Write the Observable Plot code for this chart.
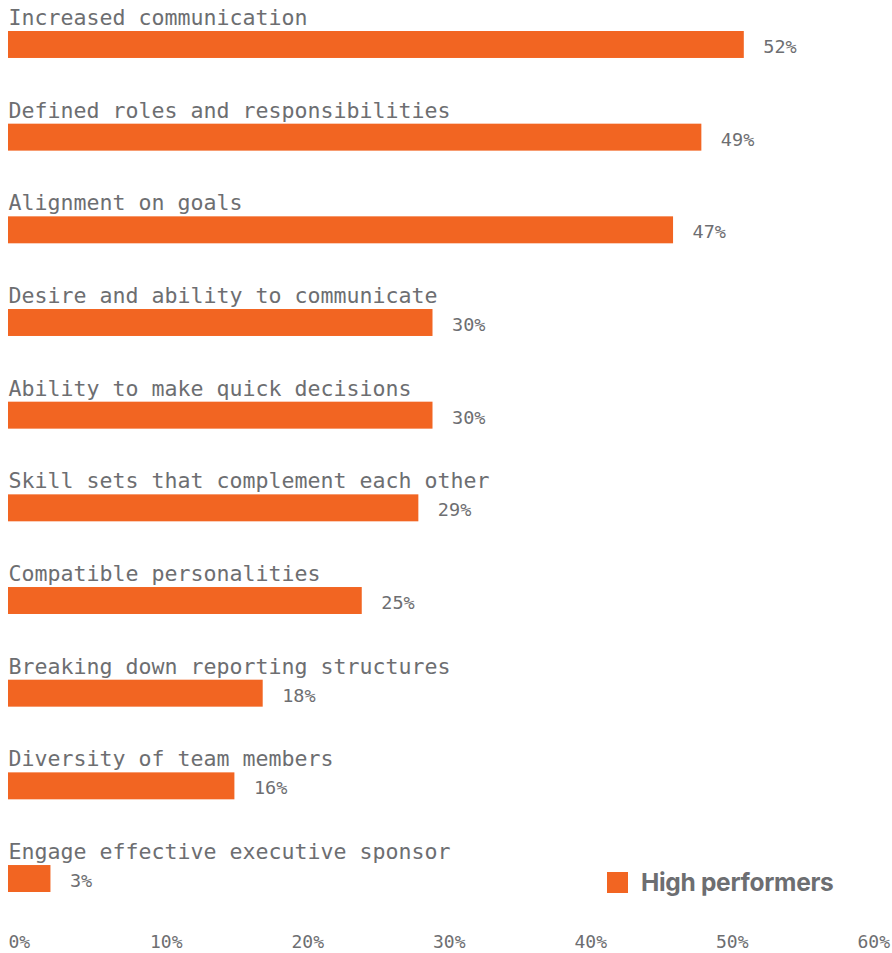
<!DOCTYPE html>
<html>
<head>
<meta charset="utf-8">
<script src="https://cdn.jsdelivr.net/npm/d3@7"></script>
<script src="https://cdn.jsdelivr.net/npm/@observablehq/plot@0.6"></script>
<style>
  html, body { margin: 0; padding: 0; background: #fff; }
  #wrap { position: relative; width: 892px; height: 953px; }
  #legend { position: absolute; left: 607px; top: 867px; display: flex; align-items: center;
    font-family: Inter, "Open Sans", sans-serif; font-weight: 700; font-size: 24.5px; color: #6d6e71; letter-spacing: -0.3px; }
  #legend .sw { width: 21px; height: 21px; background: #F26522; margin-right: 13px; }
</style>
</head>
<body>
<div id="wrap"><div id="legend"><span class="sw"></span><span>High performers</span></div></div>
<script>
const categories = [
  "Increased communication",
  "Defined roles and responsibilities",
  "Alignment on goals",
  "Desire and ability to communicate",
  "Ability to make quick decisions",
  "Skill sets that complement each other",
  "Compatible personalities",
  "Breaking down reporting structures",
  "Diversity of team members",
  "Engage effective executive sponsor"
];
const values = [52, 49, 47, 30, 30, 29, 25, 18, 16, 3];
const xTicks = [0, 10, 20, 30, 40, 50, 60];
const seriesName = "High performers";

const data = categories.map((c, i) => ({category: c, value: values[i]}));
const gray = "#6d6e71";
const orange = "#F26522";

const chart = Plot.plot({
  width: 892,
  height: 953,
  marginTop: 0,
  marginLeft: 8,
  marginRight: 35,
  marginBottom: 30,
  style: {fontFamily: "'DejaVu Sans Mono', monospace", color: gray, background: "#fff"},
  x: {domain: [0, 60], ticks: xTicks, label: null},
  y: {domain: categories, range: [31, 892], paddingInner: 0.709, paddingOuter: 0, round: false, axis: null},
  marks: [
    Plot.barX(data, {x: "value", y: "category", fill: orange}),
    Plot.text(data, {x: 0, y: "category", text: "category", textAnchor: "start", lineAnchor: "bottom",
      dy: -20, fontSize: 21.6, fill: gray}),
    Plot.text(data, {x: "value", y: "category", text: d => d.value + "%", textAnchor: "start",
      lineAnchor: "middle", dx: 19, dy: 2, fontSize: 18.5, fill: gray}),
    Plot.axisX({anchor: "bottom", ticks: xTicks, tickSize: 0, tickPadding: 12, textAnchor: "start",
      tickFormat: d => d + "%", fontSize: 18, fill: gray, label: null})
  ]
});
document.getElementById("wrap").prepend(chart);
</script>
</body>
</html>
